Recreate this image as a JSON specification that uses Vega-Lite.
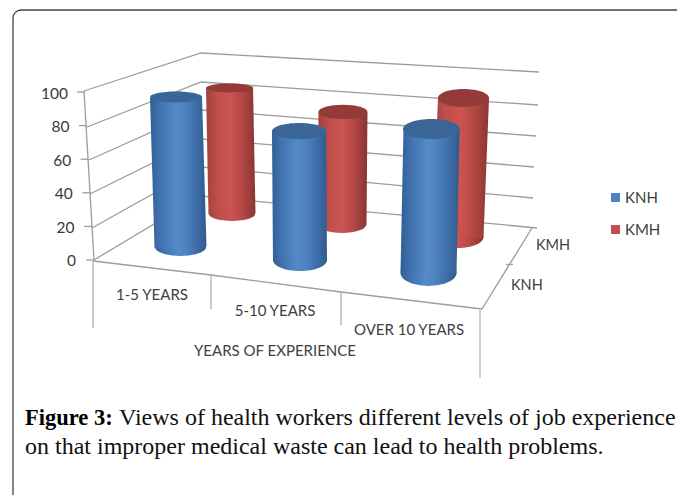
{
"$schema":"https://vega.github.io/schema/vega-lite/v6.json",
"width":677,"height":495,"padding":0,"autosize":"none","background":"white",
"config":{"view":{"stroke":null},"axis":{"disable":true}},
"datasets":{
"bars":[
{"year":"1-5 YEARS","hospital":"KNH","value":90,"floor":0},
{"year":"5-10 YEARS","hospital":"KNH","value":78,"floor":0},
{"year":"OVER 10 YEARS","hospital":"KNH","value":85,"floor":0},
{"year":"1-5 YEARS","hospital":"KMH","value":85,"floor":0},
{"year":"5-10 YEARS","hospital":"KMH","value":75,"floor":0},
{"year":"OVER 10 YEARS","hospital":"KMH","value":90,"floor":0}],
"grid":[
{"level":100,"wall":0},{"level":100,"wall":1},{"level":100,"wall":2},
{"level":80,"wall":0},{"level":80,"wall":1},{"level":80,"wall":2},
{"level":60,"wall":0},{"level":60,"wall":1},{"level":60,"wall":2},
{"level":40,"wall":0},{"level":40,"wall":1},{"level":40,"wall":2},
{"level":20,"wall":0},{"level":20,"wall":1},{"level":20,"wall":2},
{"level":0,"wall":0},{"level":0,"wall":1},{"level":0,"wall":2}],
"ticks":[{"level":100},{"level":80},{"level":60},{"level":40},{"level":20},{"level":0}],
"cats":[{"i":0,"label":"1-5 YEARS"},{"i":1,"label":"5-10 YEARS"},{"i":2,"label":"OVER 10 YEARS"},{"i":3,"label":""}],
"depth":[{"d":0},{"d":0.55},{"d":1}],
"depthLabels":[{"d":0,"label":"KNH"},{"d":1,"label":"KMH"}],
"caption":[{"c":0,"text":"Figure 3:"},{"c":1,"text":"Views of health workers different levels of job experience"},{"c":2,"text":"on that improper medical waste can lead to health problems."}]
},
"layer":[
{"data":{"values":[{"f":0}]},"mark":{"type":"rect","cornerRadius":8,"fill":null,"stroke":"#444444","strokeWidth":1.3},
 "encoding":{"x":{"datum":0,"type":"quantitative","scale":{"domain":[0,1],"range":[13,720]}},"x2":{"datum":1},"y":{"datum":0,"type":"quantitative","scale":{"domain":[0,1],"range":[10,560]}},"y2":{"datum":1}}},

{"data":{"name":"grid"},"transform":[{"filter":"datum.level===100"}],"mark":{"type":"line","stroke":"#9c9c9c","strokeWidth":1.3},"encoding":{"x":{"field":"wall","type":"quantitative","scale":{"domain":[0,1,2],"range":[84,201,539]}},"y":{"field":"wall","type":"quantitative","scale":{"domain":[0,1,2],"range":[91,53,72]}}}},
{"data":{"name":"grid"},"transform":[{"filter":"datum.level===80"}],"mark":{"type":"line","stroke":"#9c9c9c","strokeWidth":1.3},"encoding":{"x":{"field":"wall","type":"quantitative","scale":{"domain":[0,1,2],"range":[87,201,538]}},"y":{"field":"wall","type":"quantitative","scale":{"domain":[0,1,2],"range":[127,82,105]}}}},
{"data":{"name":"grid"},"transform":[{"filter":"datum.level===60"}],"mark":{"type":"line","stroke":"#9c9c9c","strokeWidth":1.3},"encoding":{"x":{"field":"wall","type":"quantitative","scale":{"domain":[0,1,2],"range":[89,201,536]}},"y":{"field":"wall","type":"quantitative","scale":{"domain":[0,1,2],"range":[160,110,136]}}}},
{"data":{"name":"grid"},"transform":[{"filter":"datum.level===40"}],"mark":{"type":"line","stroke":"#9c9c9c","strokeWidth":1.3},"encoding":{"x":{"field":"wall","type":"quantitative","scale":{"domain":[0,1,2],"range":[90,201,534]}},"y":{"field":"wall","type":"quantitative","scale":{"domain":[0,1,2],"range":[194,139,167]}}}},
{"data":{"name":"grid"},"transform":[{"filter":"datum.level===20"}],"mark":{"type":"line","stroke":"#9c9c9c","strokeWidth":1.3},"encoding":{"x":{"field":"wall","type":"quantitative","scale":{"domain":[0,1,2],"range":[92,201,533]}},"y":{"field":"wall","type":"quantitative","scale":{"domain":[0,1,2],"range":[228,167,198]}}}},
{"data":{"name":"grid"},"transform":[{"filter":"datum.level===0"}],"mark":{"type":"line","stroke":"#9c9c9c","strokeWidth":1.3},"encoding":{"x":{"field":"wall","type":"quantitative","scale":{"domain":[0,1,2],"range":[94,201,537]}},"y":{"field":"wall","type":"quantitative","scale":{"domain":[0,1,2],"range":[260,196,228]}}}},

{"data":{"name":"ticks"},"mark":{"type":"line","stroke":"#9c9c9c","strokeWidth":1.3},"encoding":{"x":{"field":"level","type":"quantitative","scale":{"domain":[0,100],"range":[94,84]}},"y":{"field":"level","type":"quantitative","scale":{"domain":[0,100],"range":[260,91]}}}},
{"data":{"name":"ticks"},"mark":{"type":"point","shape":"stroke","size":64,"stroke":"#9c9c9c","strokeWidth":1.3,"opacity":1},"encoding":{"x":{"field":"level","type":"quantitative","scale":{"domain":[0,100],"range":[90,81]}},"y":{"field":"level","type":"quantitative","scale":{"domain":[0,100],"range":[260,92]}}}},
{"data":{"name":"ticks"},"mark":{"type":"text","align":"right","baseline":"middle","font":"Lato","fontSize":15.5,"fill":"#3a3a3a"},"encoding":{"text":{"field":"level","type":"quantitative"},"x":{"field":"level","type":"quantitative","scale":{"domain":[0,100],"range":[76,68]}},"y":{"field":"level","type":"quantitative","scale":{"domain":[0,100],"range":[261,94]}}}},

{"data":{"name":"cats"},"mark":{"type":"line","stroke":"#9c9c9c","strokeWidth":1.3},"encoding":{"x":{"field":"i","type":"quantitative","scale":{"domain":[0,1,2,3],"range":[93,211,341,482]}},"y":{"field":"i","type":"quantitative","scale":{"domain":[0,1,2,3],"range":[261,275,292,309]}}}},
{"data":{"name":"cats"},"mark":{"type":"tick","orient":"vertical","thickness":1,"color":"#9c9c9c","opacity":1},"encoding":{"x":{"field":"i","type":"quantitative","scale":{"domain":[0,1,2,3],"range":[93,211,341,480]}},"y":{"field":"i","type":"quantitative","scale":{"domain":[0,1,2,3],"range":[294.5,292,308.5,344]}},"size":{"field":"i","type":"quantitative","legend":null,"scale":{"domain":[0,1,2,3],"range":[67,34,33,68]}}}},
{"data":{"name":"cats"},"transform":[{"filter":"datum.i<3"}],"mark":{"type":"text","align":"center","baseline":"middle","font":"Lato","fontSize":15,"fill":"#404040"},"encoding":{"text":{"field":"label","type":"nominal"},"x":{"field":"i","type":"quantitative","scale":{"domain":[0,1,2],"range":[152,275,409]}},"y":{"field":"i","type":"quantitative","scale":{"domain":[0,1,2],"range":[295,311,330]}}}},
{"data":{"values":[{"label":"YEARS OF EXPERIENCE","n":0}]},"mark":{"type":"text","align":"center","baseline":"middle","font":"Lato","fontSize":15,"fill":"#404040"},"encoding":{"text":{"field":"label","type":"nominal"},"x":{"field":"n","type":"quantitative","scale":{"domain":[0,1],"range":[275,300]}},"y":{"field":"n","type":"quantitative","scale":{"domain":[0,1],"range":[351,360]}}}},

{"data":{"name":"depth"},"mark":{"type":"line","stroke":"#9c9c9c","strokeWidth":1.3},"encoding":{"x":{"field":"d","type":"quantitative","scale":{"domain":[0,1],"range":[482,532]}},"y":{"field":"d","type":"quantitative","scale":{"domain":[0,1],"range":[309,228]}}}},
{"data":{"name":"depth"},"transform":[{"filter":"datum.d===0.55"}],"mark":{"type":"point","shape":"stroke","size":49,"stroke":"#9c9c9c","strokeWidth":1.3,"opacity":1},"encoding":{"x":{"field":"d","type":"quantitative","scale":{"domain":[0,1],"range":[482,532]}},"y":{"field":"d","type":"quantitative","scale":{"domain":[0,1],"range":[309,228]}}}},
{"data":{"name":"depthLabels"},"mark":{"type":"text","align":"left","baseline":"middle","font":"Lato","fontSize":14.5,"fill":"#404040"},"encoding":{"text":{"field":"label","type":"nominal"},"x":{"field":"d","type":"quantitative","scale":{"domain":[0,1],"range":[511,536]}},"y":{"field":"d","type":"quantitative","scale":{"domain":[0,1],"range":[286,246]}}}},

{"data":{"name":"bars"},"transform":[{"filter":"datum.year==='1-5 YEARS'&&datum.hospital==='KMH'"},{"fold":["floor","value"],"as":["part","amount"]}],
 "encoding":{"x":{"field":"amount","type":"quantitative","scale":{"domain":[0,100],"range":[232,229.1]}},"y":{"field":"amount","type":"quantitative","scale":{"domain":[0,100],"range":[214,65.8]}}},
 "layer":[
 {"transform":[{"filter":"datum.part==='floor'"}],"mark":{"type":"point","filled":true,"opacity":1,"shape":"M-1,0A1,0.3,0,1,1,1,0A1,0.3,0,1,1,-1,0Z","size":2116,"fill":{"gradient":"linear","x1":0,"y1":0,"x2":1,"y2":0,"stops":[{"offset":0,"color":"#a4423f"},{"offset":0.25,"color":"#c04f4c"},{"offset":0.5,"color":"#cc5350"},{"offset":0.75,"color":"#b24744"},{"offset":1,"color":"#8a3533"}]}}},
 {"mark":{"type":"line","strokeWidth":47,"strokeCap":"butt","stroke":{"gradient":"linear","x1":-9.4,"y1":0,"x2":10.4,"y2":0,"stops":[{"offset":0,"color":"#a4423f"},{"offset":0.25,"color":"#c04f4c"},{"offset":0.5,"color":"#cc5350"},{"offset":0.75,"color":"#b24744"},{"offset":1,"color":"#8a3533"}]}}},
 {"transform":[{"filter":"datum.part==='value'"}],"mark":{"type":"point","filled":true,"opacity":1,"shape":"M-1,0A1,0.19,0,1,1,1,0A1,0.19,0,1,1,-1,0Z","size":2209,"fill":"#943a38"}}
 ]},
{"data":{"name":"bars"},"transform":[{"filter":"datum.year==='5-10 YEARS'&&datum.hospital==='KMH'"},{"fold":["floor","value"],"as":["part","amount"]}],
 "encoding":{"x":{"field":"amount","type":"quantitative","scale":{"domain":[0,100],"range":[342,343.3]}},"y":{"field":"amount","type":"quantitative","scale":{"domain":[0,100],"range":[225,74.3]}}},
 "layer":[
 {"transform":[{"filter":"datum.part==='floor'"}],"mark":{"type":"point","filled":true,"opacity":1,"shape":"M-1,0A1,0.33,0,1,1,1,0A1,0.33,0,1,1,-1,0Z","size":2304,"fill":{"gradient":"linear","x1":0,"y1":0,"x2":1,"y2":0,"stops":[{"offset":0,"color":"#a4423f"},{"offset":0.25,"color":"#c04f4c"},{"offset":0.5,"color":"#cc5350"},{"offset":0.75,"color":"#b24744"},{"offset":1,"color":"#8a3533"}]}}},
 {"mark":{"type":"line","strokeWidth":49,"strokeCap":"butt","stroke":{"gradient":"linear","x1":-24.5,"y1":0,"x2":25.5,"y2":0,"stops":[{"offset":0,"color":"#a4423f"},{"offset":0.25,"color":"#c04f4c"},{"offset":0.5,"color":"#cc5350"},{"offset":0.75,"color":"#b24744"},{"offset":1,"color":"#8a3533"}]}}},
 {"transform":[{"filter":"datum.part==='value'"}],"mark":{"type":"point","filled":true,"opacity":1,"shape":"M-1,0A1,0.29,0,1,1,1,0A1,0.29,0,1,1,-1,0Z","size":2401,"fill":"#943a38"}}
 ]},
{"data":{"name":"bars"},"transform":[{"filter":"datum.year==='OVER 10 YEARS'&&datum.hospital==='KMH'"},{"fold":["floor","value"],"as":["part","amount"]}],
 "encoding":{"x":{"field":"amount","type":"quantitative","scale":{"domain":[0,100],"range":[458,464.1]}},"y":{"field":"amount","type":"quantitative","scale":{"domain":[0,100],"range":[237,82.6]}}},
 "layer":[
 {"transform":[{"filter":"datum.part==='floor'"}],"mark":{"type":"point","filled":true,"opacity":1,"shape":"M-1,0A1,0.43,0,1,1,1,0A1,0.43,0,1,1,-1,0Z","size":2601,"fill":{"gradient":"linear","x1":0,"y1":0,"x2":1,"y2":0,"stops":[{"offset":0,"color":"#a4423f"},{"offset":0.25,"color":"#c04f4c"},{"offset":0.5,"color":"#cc5350"},{"offset":0.75,"color":"#b24744"},{"offset":1,"color":"#8a3533"}]}}},
 {"mark":{"type":"line","strokeWidth":51,"strokeCap":"butt","stroke":{"gradient":"linear","x1":-4.64,"y1":0,"x2":5.64,"y2":0,"stops":[{"offset":0,"color":"#a4423f"},{"offset":0.25,"color":"#c04f4c"},{"offset":0.5,"color":"#cc5350"},{"offset":0.75,"color":"#b24744"},{"offset":1,"color":"#8a3533"}]}}},
 {"transform":[{"filter":"datum.part==='value'"}],"mark":{"type":"point","filled":true,"opacity":1,"shape":"M-1,0A1,0.35,0,1,1,1,0A1,0.35,0,1,1,-1,0Z","size":2601,"fill":"#943a38"}}
 ]},

{"data":{"name":"bars"},"transform":[{"filter":"datum.year==='1-5 YEARS'&&datum.hospital==='KNH'"},{"fold":["floor","value"],"as":["part","amount"]}],
 "encoding":{"x":{"field":"amount","type":"quantitative","scale":{"domain":[0,100],"range":[180.5,175.5]}},"y":{"field":"amount","type":"quantitative","scale":{"domain":[0,100],"range":[247,80.3]}}},
 "layer":[
 {"transform":[{"filter":"datum.part==='floor'"}],"mark":{"type":"point","filled":true,"opacity":1,"shape":"M-1,0A1,0.35,0,1,1,1,0A1,0.35,0,1,1,-1,0Z","size":2601,"fill":{"gradient":"linear","x1":0,"y1":0,"x2":1,"y2":0,"stops":[{"offset":0,"color":"#2f5f95"},{"offset":0.15,"color":"#3f70ab"},{"offset":0.45,"color":"#558ac9"},{"offset":0.6,"color":"#4f83c2"},{"offset":0.85,"color":"#3c6ba4"},{"offset":1,"color":"#2f5a8c"}]}}},
 {"mark":{"type":"line","strokeWidth":52,"strokeCap":"butt","stroke":{"gradient":"linear","x1":-5.78,"y1":0,"x2":6.78,"y2":0,"stops":[{"offset":0,"color":"#2f5f95"},{"offset":0.15,"color":"#3f70ab"},{"offset":0.45,"color":"#558ac9"},{"offset":0.6,"color":"#4f83c2"},{"offset":0.85,"color":"#3c6ba4"},{"offset":1,"color":"#2f5a8c"}]}}},
 {"transform":[{"filter":"datum.part==='value'"}],"mark":{"type":"point","filled":true,"opacity":1,"shape":"M-1,0A1,0.21,0,1,1,1,0A1,0.21,0,1,1,-1,0Z","size":2704,"fill":"#3a6597"}}
 ]},
{"data":{"name":"bars"},"transform":[{"filter":"datum.year==='5-10 YEARS'&&datum.hospital==='KNH'"},{"fold":["floor","value"],"as":["part","amount"]}],
 "encoding":{"x":{"field":"amount","type":"quantitative","scale":{"domain":[0,100],"range":[300,298.7]}},"y":{"field":"amount","type":"quantitative","scale":{"domain":[0,100],"range":[260,94.6]}}},
 "layer":[
 {"transform":[{"filter":"datum.part==='floor'"}],"mark":{"type":"point","filled":true,"opacity":1,"shape":"M-1,0A1,0.41,0,1,1,1,0A1,0.41,0,1,1,-1,0Z","size":2916,"fill":{"gradient":"linear","x1":0,"y1":0,"x2":1,"y2":0,"stops":[{"offset":0,"color":"#2f5f95"},{"offset":0.15,"color":"#3f70ab"},{"offset":0.45,"color":"#558ac9"},{"offset":0.6,"color":"#4f83c2"},{"offset":0.85,"color":"#3c6ba4"},{"offset":1,"color":"#2f5a8c"}]}}},
 {"mark":{"type":"line","strokeWidth":54,"strokeCap":"butt","stroke":{"gradient":"linear","x1":-27,"y1":0,"x2":28,"y2":0,"stops":[{"offset":0,"color":"#2f5f95"},{"offset":0.15,"color":"#3f70ab"},{"offset":0.45,"color":"#558ac9"},{"offset":0.6,"color":"#4f83c2"},{"offset":0.85,"color":"#3c6ba4"},{"offset":1,"color":"#2f5a8c"}]}}},
 {"transform":[{"filter":"datum.part==='value'"}],"mark":{"type":"point","filled":true,"opacity":1,"shape":"M-1,0A1,0.3,0,1,1,1,0A1,0.3,0,1,1,-1,0Z","size":2916,"fill":"#3a6597"}}
 ]},
{"data":{"name":"bars"},"transform":[{"filter":"datum.year==='OVER 10 YEARS'&&datum.hospital==='KNH'"},{"fold":["floor","value"],"as":["part","amount"]}],
 "encoding":{"x":{"field":"amount","type":"quantitative","scale":{"domain":[0,100],"range":[428.5,432]}},"y":{"field":"amount","type":"quantitative","scale":{"domain":[0,100],"range":[273,103.6]}}},
 "layer":[
 {"transform":[{"filter":"datum.part==='floor'"}],"mark":{"type":"point","filled":true,"opacity":1,"shape":"M-1,0A1,0.46,0,1,1,1,0A1,0.46,0,1,1,-1,0Z","size":3136,"fill":{"gradient":"linear","x1":0,"y1":0,"x2":1,"y2":0,"stops":[{"offset":0,"color":"#2f5f95"},{"offset":0.15,"color":"#3f70ab"},{"offset":0.45,"color":"#558ac9"},{"offset":0.6,"color":"#4f83c2"},{"offset":0.85,"color":"#3c6ba4"},{"offset":1,"color":"#2f5a8c"}]}}},
 {"mark":{"type":"line","strokeWidth":56,"strokeCap":"butt","stroke":{"gradient":"linear","x1":-9.33,"y1":0,"x2":10.33,"y2":0,"stops":[{"offset":0,"color":"#2f5f95"},{"offset":0.15,"color":"#3f70ab"},{"offset":0.45,"color":"#558ac9"},{"offset":0.6,"color":"#4f83c2"},{"offset":0.85,"color":"#3c6ba4"},{"offset":1,"color":"#2f5a8c"}]}}},
 {"transform":[{"filter":"datum.part==='value'"}],"mark":{"type":"point","filled":true,"opacity":1,"shape":"M-1,0A1,0.35,0,1,1,1,0A1,0.35,0,1,1,-1,0Z","size":3249,"fill":"#3a6597"}}
 ]},

{"data":{"name":"bars"},"mark":{"type":"point","filled":true,"opacity":0},"encoding":{"color":{"field":"hospital","type":"nominal","scale":{"domain":["KNH","KMH"],"range":["#4f81bd","#c0504d"]},"legend":{"orient":"none","legendX":608,"legendY":190,"title":null,"symbolType":"square","symbolSize":81,"symbolOpacity":1,"symbolStrokeWidth":0,"labelFont":"Lato","labelFontSize":15,"labelColor":"#404040","rowPadding":16,"labelOffset":2}}}},

{"data":{"name":"caption"},"transform":[{"filter":"datum.c===0"}],"mark":{"type":"text","align":"left","baseline":"alphabetic","font":"Liberation Serif","fontSize":22.5,"fontWeight":"bold","fill":"#000000"},"encoding":{"text":{"field":"text","type":"nominal"},"x":{"field":"c","type":"quantitative","scale":{"domain":[0,1],"range":[25,50]}},"y":{"field":"c","type":"quantitative","scale":{"domain":[0,1],"range":[425,430]}}}},
{"data":{"name":"caption"},"transform":[{"filter":"datum.c>0"}],"mark":{"type":"text","align":"left","baseline":"alphabetic","font":"Liberation Serif","fontSize":24,"fill":"#111111"},"encoding":{"text":{"field":"text","type":"nominal"},"x":{"field":"c","type":"quantitative","scale":{"domain":[1,2],"range":[119,25]}},"y":{"field":"c","type":"quantitative","scale":{"domain":[1,2],"range":[425,454]}}}}
],
"resolve":{"scale":{"x":"independent","y":"independent","color":"independent","size":"independent"}}
}
